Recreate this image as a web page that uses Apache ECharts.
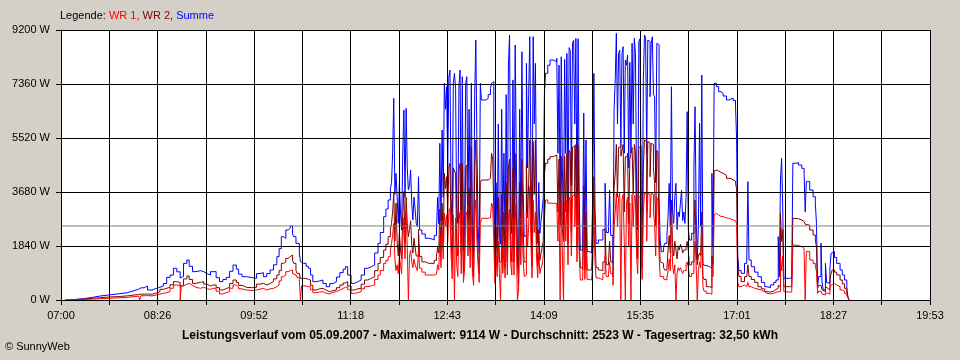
<!DOCTYPE html>
<html><head><meta charset="utf-8">
<script src="https://cdn.jsdelivr.net/npm/echarts@6/dist/echarts.min.js"></script>
<style>html,body{margin:0;padding:0;background:#d4d0c8;}#c{width:960px;height:360px;}</style>
</head><body><div id="c"></div>
<script>
// x tick labels (every second gridline)
const timeLabels = ['07:00','08:26','09:52','11:18','12:43','14:09','15:35','17:01','18:27','19:53'];
const dayMinutes = 773;      // 07:00 .. 19:53
const gridSteps = 18;        // vertical gridlines
const averageW = 2523;
const titleText = 'Leistungsverlauf vom 05.09.2007 - Maximalwert: 9114 W - Durchschnitt: 2523 W - Tagesertrag: 32,50 kWh';

// minutes after 07:00
const minutes = [
 4,8,14,21,28,35,42,50,59,65, 69,70,71,74,77,81,85,
 88,91,94,97,100,103,106,107,109,112, 114,117,120,124,127,130,133,135,138,141, 144,147,150,153,156,158,161,165,170,
 174,177,180,183,186,189,192,194,196,198, 200,202,204,206,207,209,210,212,213,214, 216,218,220,222,224,227,230,233,236,239, 242,245,248,251,253,255,258,
 261,264,267,270,273,276,279,282,284,287, 289,291,293,294,295,296,297,298,299,300, 301,302,303,304,305,306,307,308,309,310, 311,312,313,314,315,316,317,318,319,321, 324,327,330,332,334,335,336,337,338,339, 340,341,342,343,
 344,345,346,347,348,349,350,351,352,353, 354,355,356,357,358,359,360,361,362,363, 364,365,366,367,368,369,370,371,372,373, 374,376,378,380,382,383,384,385,386,387, 388,389,390,391,392,393,394,395,396,397, 398,399,400,401,402,403,404,405,406,407, 408,409,410,411,412,413,414,415,416,417, 418,419,420,421,422,423,424,425,426,427, 428,429,430,431,433,435,438,441,442,
 443,444,445,446,447,448,449,450,451,452, 453,454,455,456,457,458,459,460,461,462, 464,465,466,467,468,470,472,473,474,475, 476,478,480,482,484,485,487,488,489,491, 492,493,494,495,496,497,498,499,500,501, 502,503,504,505,506,507,508,509,510,511, 512,513,514,515,516,517,518,519,520,521, 522,523,524,525,526,527,528,529,530,531, 532,533,534,
 536,537,539,540,541,542,543,544,545,546, 547,548,549,550,551,552,553,554,555,556, 557,558,559,561,563,564,565,566,567,568, 569,570,571,572,574,577,579,580,581,582, 583,585,587,589,592,594,596,598,600,601, 602,603,605,608,610,611,612,614,617,620, 623,626,628,631,634,636,638,639,640,641, 642,643,645,648,650,651,653,656,659,661, 662,663,666,669,671,672,673,674,676,677, 678,680,681,682,684,685,686,688,690,693, 695,697,699,700,701
];

// WR 1 (W)
const wr1 = [
 0,10,20,30,45,60,70,90,115,130, 140,0,145,150,140,170,200,
 227,250,284,400,511,500,0,480,540,568, 500,432,400,432,380,364,398,398,300,204, 250,284,400,511,450,380,341,320,341,
 370,398,341,380,398,450,511,650,795,850, 966,1000,1022,900,852,800,773,700,0,480, 477,454,454,350,250,270,284,230,204,260, 284,340,398,430,454,350,227,
 250,284,380,454,480,511,700,852,1000,1249, 1350,1476,1700,1931,2200,2612,1400,1000,1200,900, 1500,1200,900,2000,2800,1400,3000,1800,0,1500, 1700,1300,1100,1400,1200,1100,1000,1700,1080,950, 850,850,852,880,909,1200,1022,2200,1100,2400, 1400,2953,2500,2900,
 2000,3000,3123,1500,720,2900,0,2800,1200,800, 2700,3000,900,3000,600,1022,2900,3000,1500,2600, 1100,3200,900,500,2800,3400,2000,1200,600,2600, 2782,2782,2782,2800,2800,3300,3200,2000,568,1500, 800,2000,900,0,2200,900,1800,750,2500,850, 2800,3100,1300,850,2800,850,3300,2000,0,300, 2500,1200,3000,1500,800,850,3000,1800,2500,3861, 2000,750,3400,2300,3000,1500,750,1600,900,1100, 1200,1500,2800,3407,3300,3294,3294,3350,2000,
 3300,0,3400,1500,0,3350,2000,3400,1200,3500, 3400,1500,3550,3600,2500,3634,1300,3600,1500,681, 681,2400,700,1800,700,681,720,1200,3000,1300, 750,720,700,900,1500,800,900,1300,900,500, 2500,3000,3634,2500,3500,3634,0,3400,3600,2000, 0,3300,3500,1800,3300,0,3600,2500,3577,3400, 1500,900,3500,3550,1500,700,3000,3634,3600,2000, 3634,3600,2800,3634,3600,3000,2612,1500,3500,3400, 1500,800,795,
 720,681,750,1000,1400,1000,2953,1200,900,1200, 0,900,1100,1000,1100,1000,900,1000,1000,1200, 1300,1100,800,900,1500,2000,1200,0,1000,1300, 1100,2200,454,300,227,200,1200,800,2900,2953, 2900,2850,2839,2800,2782,2760,2726,2700,2669,2600, 600,454,511,454,500,600,454,400,370,341, 280,227,210,227,260,280,300,290,1500,1000, 1500,280,270,270,280,1874,1860,1817,1750,1647, 0,1650,1363,1249,1135,1000,227,300,250,200, 170,250,227,200,400,511,568,511,454,341, 300,227,150,80,0
];

// WR 2 (W)
const wr2 = [
 0,15,30,55,80,100,115,140,170,185, 195,200,200,205,195,240,280,
 364,400,432,520,625,600,454,500,720,818, 700,568,600,625,540,477,511,511,420,341, 390,432,560,681,600,500,432,420,432,
 540,568,511,560,625,720,852,1000,1249,1300, 1419,1480,1533,1350,1249,1000,909,850,738,738, 738,700,681,500,341,380,398,330,284,320, 341,420,511,580,625,480,341,
 380,398,540,681,740,795,1000,1249,1450,1703, 1900,2158,2400,2612,3000,3634,2000,3300,2000,1500, 2300,1700,1400,2900,3700,2000,3500,2600,2158,2400, 2700,1900,1600,2100,1800,1500,1500,2400,1476,1300, 1250,1250,1249,1350,1476,1800,1600,3100,1700,3300, 2000,4316,3800,4200,
 3000,4500,4657,2200,1300,4500,4400,4300,1800,1500, 4400,4657,1600,4657,900,1500,4500,4600,2000,3800, 1700,5225,1200,800,4500,5451,2800,1500,900,4000, 4088,4088,4088,4150,4202,5000,4800,3000,1022,2500, 1200,3500,1300,1300,3600,1400,3000,1100,4000,1300, 4500,4800,1800,1300,4500,1300,5000,3000,1500,500, 4000,1800,4800,2500,1300,1300,4600,2800,4000,5451, 3000,1150,5400,3600,5451,2000,1150,2400,1350,1600, 1800,2000,4300,4657,4800,4884,4941,4941,3000,
 4800,2500,4900,2400,2000,4900,3000,5000,1900,5100, 5000,2300,5200,5250,3500,5300,1800,5280,2000,1100, 1022,3900,1050,3000,1022,1022,1050,2000,4200,2100, 1100,1022,1000,1300,2400,1200,1300,2000,1300,800, 3800,4300,5300,3500,5200,5225,4900,5100,5300,3000, 4884,4900,5000,2600,4800,5000,5200,3600,5300,5000, 2200,1400,5200,5250,2300,1100,4500,5451,5400,3000, 5400,5350,4200,5339,5300,4500,3975,2500,5100,5000, 2300,1300,1249,
 1100,1022,1100,1700,2200,1600,3407,1800,1500,2000, 1700,1400,1800,1703,1900,1800,1600,1700,1703,1800, 2000,1700,1200,1300,2500,3407,1700,1200,1500,1600, 1500,3000,800,700,454,420,1500,1200,4400,4429, 4400,4350,4316,4250,4145,4140,4088,4050,3975,3800, 1100,800,625,795,750,1200,800,700,600,454, 380,284,270,300,360,398,500,450,2953,2000, 2400,454,454,454,454,2782,2770,2726,2670,2612, 2580,2550,2385,2215,2044,1800,398,500,450,350, 284,450,398,341,700,900,1022,950,852,681, 550,398,250,100,0
];

// Summe (W)
const summe = [
 0,25,50,90,136,170,204,250,318,370, 400,410,420,477,340,400,432,
 477,560,773,850,1080,960,750,800,1250,1363, 1150,966,1000,966,900,852,966,966,760,625, 700,773,980,1192,1050,880,795,760,738,
 900,932,795,900,1022,1200,1476,1750,2158,2100, 2385,2450,2521,2250,2158,1931,1931,1600,1306,1249, 1249,1150,1080,850,625,650,681,560,454,560, 625,780,932,1050,1135,850,568,
 620,681,850,1080,1135,1192,1600,1931,2300,2839, 3100,3407,3800,3975,5000,6872,3600,4316,3500,2612, 3975,3000,2385,5000,6473,3500,6531,4500,3748,3900, 4429,3300,2726,3500,3100,2612,2500,4200,2385,2250, 2102,2080,2044,2200,2385,3500,2600,5339,2700,5792, 3500,7384,6500,7270,
 4500,7600,7837,3500,2385,7400,7724,7200,3000,2612, 7300,7837,2500,7610,1700,2612,7400,7610,3200,6500, 2900,7384,2000,1476,7000,8858,5225,2600,1590,7384, 6814,6814,6872,7000,7213,7384,7440,5000,1249,4000, 2100,6000,2300,1900,6500,2400,5000,1931,7000,2271, 8000,9029,3000,2271,7500,2300,8688,5000,1500,795, 6500,2800,8460,4000,2158,2200,8063,4500,7000,8972, 5000,1931,8972,6000,8063,3500,1931,4000,2271,2700, 3066,3500,7000,7724,8000,8177,8120,8234,5000,
 8000,2800,8290,4500,2500,8200,5000,8400,3000,8600, 8500,3900,8750,8850,6000,8916,2800,8900,3300,1700, 1650,6371,1700,5451,1650,1600,1700,3500,7724,3180, 1931,2044,2044,2400,3975,2300,2500,3748,2200,1249, 6500,7497,9086,6000,8400,8518,5225,8400,8631,5000, 8177,8000,8347,4500,8100,5000,8745,6000,8915,8400, 3600,2385,8800,8900,3800,1590,7500,9029,8950,5000, 8858,8800,6928,8745,8972,7000,6928,4000,8745,8700, 3500,2044,1647,
 1800,1931,2200,2839,3975,2500,7270,3000,2612,3500, 3975,2400,3000,2839,3300,3748,2700,3000,2612,3500, 6417,2400,2044,2271,4500,6587,3000,1363,2500,6020, 2500,7667,1249,1180,1135,1080,4316,1800,7384,7384, 7270,7100,7043,6950,6814,6850,6872,6800,6644,5451, 1500,1000,909,1249,1363,4032,1363,1135,950,795, 600,454,420,511,600,681,2158,795,4088,4827, 3180,738,738,750,795,4657,4680,4600,4486,4316, 3000,4032,3748,3520,3294,2612,454,800,1931,600, 341,1249,600,568,1100,1590,1647,1450,1249,1022, 850,681,400,113,0
];

const FONT = '"Liberation Sans", Arial, sans-serif';
const minPerStep = dayMinutes / gridSteps;
function pairs(vals) {
  const n = Math.min(minutes.length, vals.length);
  const out = [];
  for (let i = 0; i < n; i++) out.push([minutes[i] / minPerStep, vals[i]]);
  return out;
}
function lineSeries(name, vals, color) {
  return { name, type: 'line', data: pairs(vals), symbol: 'none', silent: true, step: 'end',
    lineStyle: { color, width: 1 }, itemStyle: { color }, z: 2 };
}

const chart = echarts.init(document.getElementById('c'));
chart.setOption({
  animation: false,
  backgroundColor: '#d4d0c8',
  textStyle: { fontFamily: FONT },
  title: [
    { text: '{k|Legende: }{a|WR 1, }{b|WR 2, }{c|Summe}', left: 60, top: 10, padding: 0,
      textStyle: { fontSize: 11, fontWeight: 'normal', fontFamily: FONT,
        rich: { k: { color: '#000', fontSize: 11, fontFamily: FONT },
                a: { color: '#ff0000', fontSize: 11, fontFamily: FONT },
                b: { color: '#800000', fontSize: 11, fontFamily: FONT },
                c: { color: '#0000ff', fontSize: 11, fontFamily: FONT } } } },
    { text: titleText, left: 'center', top: 330, padding: 0,
      textStyle: { fontSize: 12, fontWeight: 'bold', color: '#000', fontFamily: FONT } },
    { text: '© SunnyWeb', left: 5, top: 341, padding: 0,
      textStyle: { fontSize: 11, fontWeight: 'normal', color: '#000', fontFamily: FONT } }
  ],
  grid: { left: 61, right: 30, top: 30, bottom: 60, show: true, backgroundColor: '#ffffff', borderWidth: 0 },
  xAxis: {
    type: 'value', min: 0, max: gridSteps, interval: 1, z: 5,
    axisLine: { show: true, onZero: false, lineStyle: { color: '#000', width: 1 } },
    axisTick: { show: true, length: 5, lineStyle: { color: '#000' } },
    axisLabel: { color: '#000', fontSize: 11, margin: 10, fontFamily: FONT,
      formatter: v => (Math.round(v) % 2 === 0 ? timeLabels[Math.round(v) / 2] : '') },
    splitLine: { show: true, lineStyle: { color: '#000', width: 1 } }
  },
  yAxis: {
    type: 'value', min: 0, max: 9200, interval: 1840, z: 5,
    axisLine: { show: true, lineStyle: { color: '#000', width: 1 } },
    axisTick: { show: true, length: 5, lineStyle: { color: '#000' } },
    axisLabel: { color: '#000', fontSize: 11, margin: 11, fontFamily: FONT, formatter: v => v + ' W' },
    splitLine: { show: true, lineStyle: { color: '#000', width: 1 } }
  },
  series: [
    lineSeries('Summe', summe, '#0000ff'),
    lineSeries('WR 2', wr2, '#800000'),
    lineSeries('WR 1', wr1, '#ff0000'),
    { name: 'Durchschnitt', type: 'line', symbol: 'none', silent: true, z: 3,
      data: [[0, averageW], [gridSteps, averageW]],
      lineStyle: { color: '#808080', width: 1 } }
  ]
});
</script></body></html>
